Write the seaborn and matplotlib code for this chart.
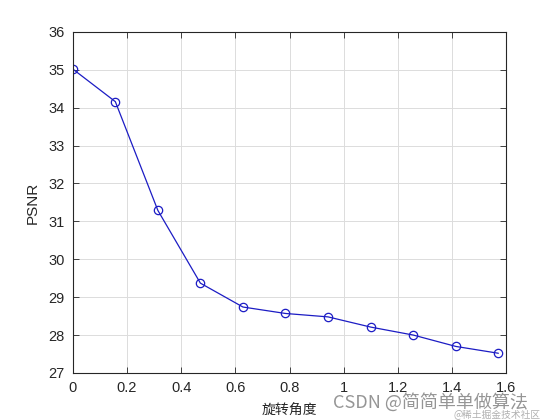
import numpy as np
import pandas as pd
import seaborn as sns
import matplotlib
matplotlib.use("Agg")
import matplotlib.pyplot as plt

# rotation angle (rad) and PSNR
angle = [0.0, 0.157, 0.314, 0.471, 0.628, 0.785, 0.942, 1.100, 1.257, 1.414, 1.571]
psnr = [35.02, 34.16, 31.29, 29.37, 28.74, 28.57, 28.48, 28.21, 28.00, 27.70, 27.52]
x_ticks = [0, 0.2, 0.4, 0.6, 0.8, 1, 1.2, 1.4, 1.6]
y_ticks = [27, 28, 29, 30, 31, 32, 33, 34, 35, 36]

sns.set_theme(style="white")
plt.rcParams["font.family"] = ["Liberation Sans", "Noto Sans CJK SC", "DejaVu Sans"]

df = pd.DataFrame({"angle": angle, "psnr": psnr})

fig = plt.figure(figsize=(5.6, 4.2), dpi=100)
ax = fig.add_axes([0.130, 0.112, 0.774, 0.812])
sns.lineplot(data=df, x="angle", y="psnr", ax=ax, color="#1c1cc4", linewidth=0.9,
             marker="o", markersize=6, markerfacecolor="none",
             markeredgecolor="#1c1cc4", markeredgewidth=0.9)

ax.set_xlim(0, 1.6)
ax.set_ylim(27, 36)
ax.set_xticks(x_ticks)
ax.set_xticklabels(["0", "0.2", "0.4", "0.6", "0.8", "1", "1.2", "1.4", "1.6"])
ax.set_yticks(y_ticks)
ax.grid(True, color="#dcdcdc", linewidth=0.7)
for s in ax.spines.values():
    s.set_color("#262626")
    s.set_linewidth(0.8)
ax.tick_params(axis="both", direction="in", length=4, width=0.6, labelsize=10.5,
               colors="#262626", top=True, right=True, bottom=True, left=True, pad=6)
ax.set_xlabel("旋转角度", fontsize=10, family=["Noto Sans CJK SC", "DejaVu Sans"],
              color="#262626", labelpad=6)
ax.set_ylabel("PSNR", fontsize=11, color="#262626", labelpad=6)

# watermark
fig.text(0.595, 0.03, "CSDN @简简单单做算法", fontsize=13, color="#8a8a8a", alpha=0.9,
         family=["Noto Sans CJK SC", "DejaVu Sans"])
fig.text(0.81, 0.005, "@稀土掘金技术社区", fontsize=7, color="#b0b0b0",
         family=["Noto Sans CJK SC", "DejaVu Sans"])

fig.savefig("out.png", dpi=100)
